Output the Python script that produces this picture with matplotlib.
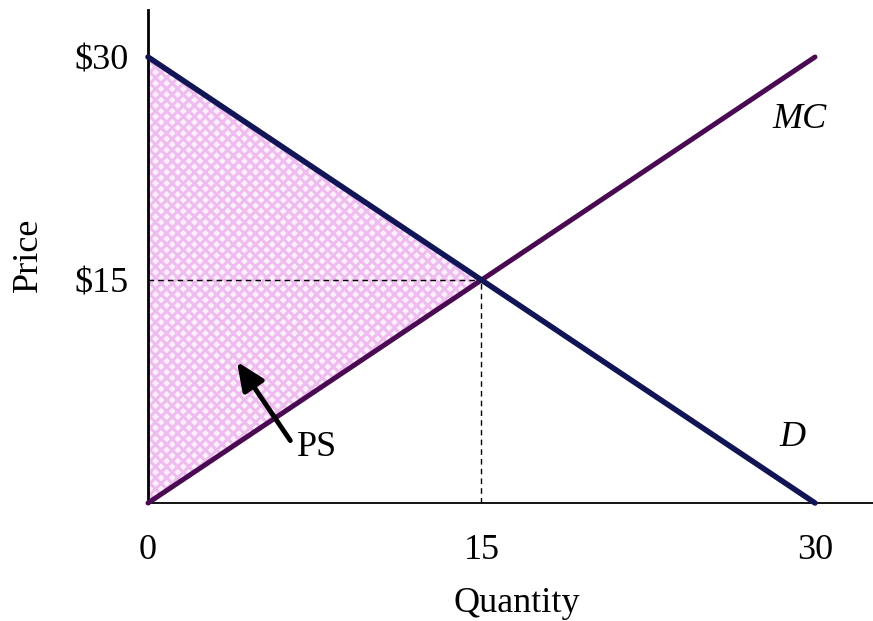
import matplotlib
matplotlib.use("Agg")
import matplotlib.pyplot as plt
from matplotlib.patches import Polygon

# Data
demand_q = [0, 30]
demand_p = [30, 0]
mc_q = [0, 30]
mc_p = [0, 30]
eq_q, eq_p = 15, 15
ps_q = [0, 0, 15]
ps_p = [0, 30, 15]
xticks = [0, 15, 30]
xticklabels = ["0", "15", "30"]
yticks = [15, 30]
yticklabels = ["$15", "$30"]

plt.rcParams['font.family'] = ['Liberation Serif', 'DejaVu Serif']
plt.rcParams['hatch.linewidth'] = 2.2

FS = 26

fig = plt.figure(figsize=(8.73, 6.21), dpi=100)
ax = fig.add_axes([148/873, (621-503)/621, (873-148)/873, (503-10)/621])
ax.set_xlim(0, (873-148)/(667/30))
ax.set_ylim(0, (503-10)/(446/30))

poly = Polygon(list(zip(ps_q, ps_p)), closed=True, facecolor='#fdf0fd',
               edgecolor='#efbcef', hatch='xxx', linewidth=0, zorder=1)
ax.add_patch(poly)

ax.plot([0, eq_q], [eq_p, eq_p], color='black', lw=1, ls=(0, (4, 3)), zorder=2)
ax.plot([eq_q, eq_q], [0, eq_p], color='black', lw=1, ls=(0, (4, 3)), zorder=2)

ax.plot(mc_q, mc_p, color='#4a0a52', lw=3.6, solid_capstyle='round', zorder=3, clip_on=False)
ax.plot(demand_q, demand_p, color='#121555', lw=4.0, solid_capstyle='round', zorder=4, clip_on=False)

ax.text(29.3, 25.8, "MC", fontsize=FS, style='italic', ha='center', va='center')
ax.text(29.0, 4.4, "D", fontsize=FS, style='italic', ha='center', va='center')
ax.text(7.6, 3.7, "PS", fontsize=FS, ha='center', va='center')
ax.annotate("", xy=(4.0, 9.5), xytext=(6.4, 4.2),
            arrowprops=dict(arrowstyle='-|>,head_length=1.7,head_width=0.75',
                            color='black', lw=3.5, shrinkA=0, shrinkB=0))

for s in ['top', 'right']:
    ax.spines[s].set_visible(False)
ax.spines['left'].set_linewidth(2.0)
ax.spines['bottom'].set_linewidth(1.3)

ax.set_xticks(xticks)
ax.set_xticklabels(xticklabels, fontsize=FS)
ax.set_yticks(yticks)
ax.set_yticklabels(yticklabels, fontsize=FS)
ax.tick_params(axis='x', length=0, pad=22)
ax.tick_params(axis='y', length=0, pad=14)

fig.text(517/873, 1 - 603/621, "Quantity", fontsize=FS, ha='center', va='center')
fig.text(28/873, 1 - 255/621, "Price", fontsize=FS, ha='center', va='center', rotation=90)

fig.savefig("out.png", dpi=100)
